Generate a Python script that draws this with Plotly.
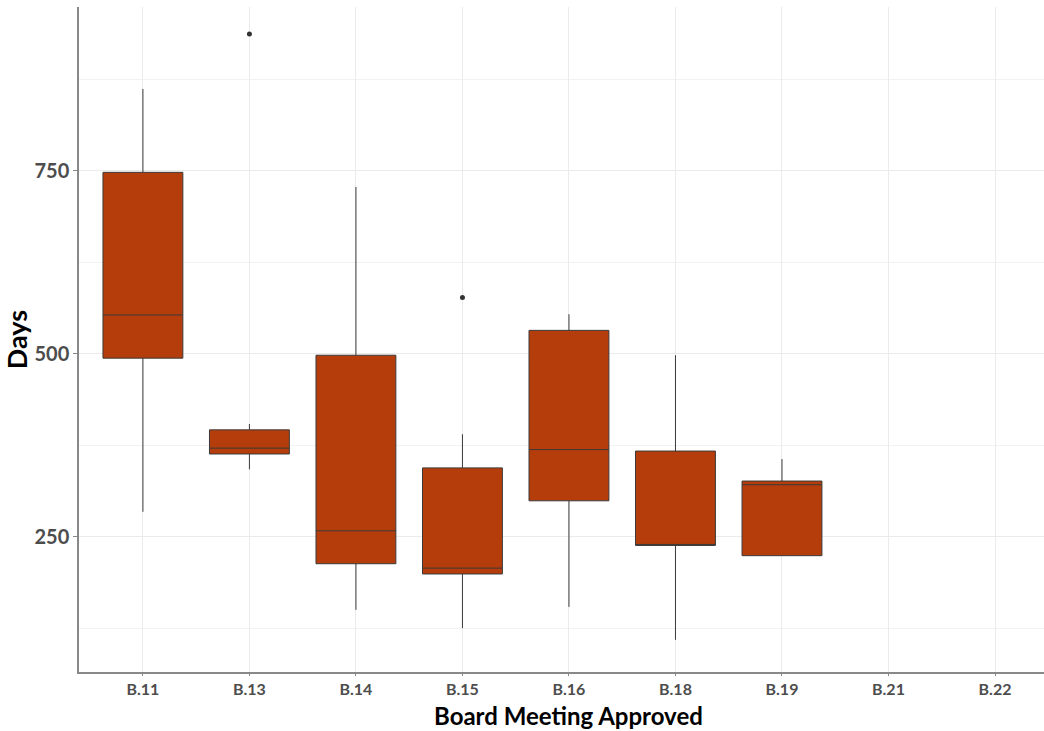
import plotly.graph_objects as go

categories = ["B.11", "B.13", "B.14", "B.15", "B.16", "B.18", "B.19", "B.21", "B.22"]
box_cats = ["B.11", "B.13", "B.14", "B.15", "B.16", "B.18", "B.19"]
lower_whisker = [284, 342, 150, 125, 154, 109, 224]
q1 = [494, 363, 213, 199, 299, 238, 224]
median = [553, 371, 258, 207, 369, 238, 321]
q3 = [748, 396, 498, 344, 532, 367, 326]
upper_whisker = [862, 404, 728, 390, 554, 498, 356]
outlier_cats = ["B.13", "B.15"]
outlier_vals = [937, 577]
y_ticks = [250, 500, 750]

FILL = "#B53D0B"
EDGE = "#3a3a3a"
FONT = "Lato"

fig = go.Figure()
for i, c in enumerate(box_cats):
    fig.add_trace(go.Box(
        x=[c], q1=[q1[i]], median=[median[i]], q3=[q3[i]],
        lowerfence=[lower_whisker[i]], upperfence=[upper_whisker[i]],
        fillcolor=FILL, line=dict(color=EDGE, width=1),
        whiskerwidth=0, width=0.75, boxpoints=False, showlegend=False,
    ))

fig.add_trace(go.Scatter(
    x=outlier_cats, y=outlier_vals, mode="markers",
    marker=dict(color="#333333", size=5), showlegend=False, hoverinfo="skip",
))
# register empty categories
fig.add_trace(go.Scatter(
    x=categories, y=[None] * len(categories), mode="markers",
    showlegend=False, hoverinfo="skip",
))

fig.update_layout(
    width=1044, height=731,
    margin=dict(l=79, r=0, t=7, b=59),
    plot_bgcolor="white", paper_bgcolor="white",
    font=dict(family=FONT),
    xaxis=dict(
        type="category", categoryorder="array", categoryarray=categories,
        range=[-0.6, 8.46], automargin=False,
        showgrid=True, gridcolor="#EBEBEB", gridwidth=1,
        showline=True, linecolor="#888888", linewidth=1.5,
        ticks="outside", ticklen=2, tickcolor="#888888",
        tickfont=dict(family=FONT, size=16, color="#4D4D4D", weight="bold"),
        zeroline=False,
    ),
    yaxis=dict(
        range=[65, 974], automargin=False,
        tickmode="array", tickvals=y_ticks, ticktext=[str(v) for v in y_ticks],
        showgrid=True, gridcolor="#EBEBEB", gridwidth=1,
        minor=dict(dtick=125, tick0=0, showgrid=True, gridcolor="#F2F2F2", gridwidth=1),
        showline=True, linecolor="#888888", linewidth=1.5,
        ticks="outside", ticklen=4, tickcolor="#888888",
        tickfont=dict(family=FONT, size=20, color="#4D4D4D", weight="bold"),
        title=dict(text="Days", standoff=2,
                   font=dict(family=FONT, size=27, color="black", weight="bold")),
        zeroline=False,
    ),
    annotations=[dict(
        text="Board Meeting Approved", xref="paper", yref="paper",
        x=0.507, y=0, xanchor="center", yanchor="bottom", yshift=-59,
        showarrow=False, borderpad=0,
        font=dict(family=FONT, size=24, color="black", weight="bold"),
    )],
)

fig.write_html("out.html", config={"displayModeBar": False},
               post_script="document.body.style.margin='0';")
